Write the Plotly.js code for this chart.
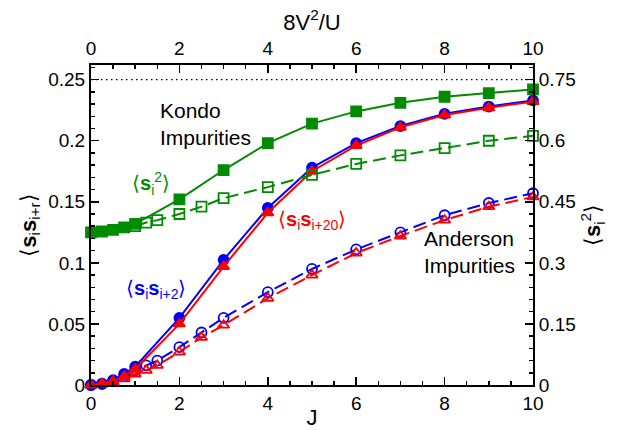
<!DOCTYPE html>
<html><head><meta charset="utf-8">
<script src="https://cdn.plot.ly/plotly-3.0.1.min.js"></script>
<style>html,body{margin:0;padding:0;background:#fff}#c{width:623px;height:430px}</style>
</head><body><div id="c"></div>
<script>
// Kondo impurities (filled symbols)
const J_kondo = [0,0.25,0.5,0.75,1,2,3,4,5,6,7,8,9,10];
const kondo_si2 = [0.375,0.377,0.381,0.387,0.396,0.456,0.528,0.594,0.642,0.672,0.693,0.708,0.717,0.726]; // right axis
const kondo_r2 = [0,0.001,0.004,0.009,0.015,0.055,0.1025,0.145,0.178,0.198,0.212,0.222,0.228,0.233];
const kondo_r20 = [0,0.001,0.003,0.007,0.013,0.050,0.097,0.141,0.175,0.196,0.211,0.221,0.227,0.232];
// Anderson impurities (open symbols)
const J_and_si2 = [1,1.25,1.5,2,2.5,3,4,5,6,7,8,9,10];
const and_si2 = [0.39,0.399,0.405,0.42,0.438,0.459,0.486,0.516,0.543,0.564,0.582,0.6,0.612]; // right axis
const J_and = [0,0.25,0.5,0.75,1,1.25,1.5,2,2.5,3,4,5,6,7,8,9,10];
const and_r2 = [0,0.001,0.003,0.007,0.012,0.016,0.020,0.031,0.043,0.055,0.076,0.095,0.111,0.125,0.139,0.149,0.157];
const and_r20 = [0,0.001,0.002,0.005,0.009,0.012,0.016,0.027,0.039,0.049,0.071,0.090,0.108,0.122,0.135,0.146,0.154];
const refLineX = [0,10];
const refLineY = [0.25,0.25];
const leftTicks = [0,0.05,0.1,0.15,0.2,0.25];
const rightTicks = [0,0.15,0.3,0.45,0.6,0.75];
const rightTickText = ['0','0.15','0.3','0.45','0.6','0.75'];
const xTicks = [0,2,4,6,8,10];

const G='#008b00', B='#0000ff', R='#ff0000';
const FONT='Liberation Sans, Arial, sans-serif';
const yTop=0.262;

function tr(x,y,color,sym,dash,yaxis){
  return {x:x,y:y,type:'scatter',mode:'lines+markers',cliponaxis:false,yaxis:yaxis||'y',
    line:{color:color,width:2,dash:dash},
    marker:{symbol:sym,size:10,color:color,line:{color:color,width:1.8}},showlegend:false};
}
const DASH='13px,6px';
const data=[
  {x:refLineX,y:refLineY,type:'scatter',mode:'lines',line:{color:'#000',width:1.3,dash:'1.5px,3.5px'},showlegend:false,hoverinfo:'skip'},
  tr(J_and_si2,and_si2,G,'square-open',DASH,'y2'),
  tr(J_and,and_r2,B,'circle-open',DASH),
  tr(J_and,and_r20,R,'triangle-up-open',DASH),
  tr(J_kondo,kondo_si2,G,'square','solid','y2'),
  tr(J_kondo,kondo_r2,B,'circle','solid'),
  tr(J_kondo,kondo_r20,R,'triangle-up','solid'),
  {x:[0],y:[0],xaxis:'x2',type:'scatter',mode:'markers',marker:{opacity:0},showlegend:false,hoverinfo:'skip'}
];
const axBase={showgrid:false,zeroline:false,showline:true,linecolor:'#000',linewidth:2,ticks:'inside',ticklen:8,tickwidth:1.5,tickcolor:'#000',
  tickfont:{family:FONT,size:19,color:'#000'}};
const layout={
  width:623,height:430,margin:{l:91,r:90,t:65,b:45},paper_bgcolor:'#fff',plot_bgcolor:'#fff',
  font:{family:FONT,color:'#000'},
  xaxis:Object.assign({},axBase,{range:[0,10],tickvals:xTicks,minor:{dtick:0.5,ticks:'inside',ticklen:4,tickcolor:'#000'},
    title:{text:'J',font:{family:FONT,size:22},standoff:2}}),
  xaxis2:Object.assign({},axBase,{range:[0,10],overlaying:'x',side:'top',tickvals:xTicks,minor:{dtick:0.5,ticks:'inside',ticklen:4,tickcolor:'#000'},
    title:{text:'8V<sup>2</sup>/U',font:{family:FONT,size:22},standoff:2}}),
  yaxis:Object.assign({},axBase,{range:[0,yTop],tickvals:leftTicks,minor:{dtick:0.01,ticks:'inside',ticklen:4,tickcolor:'#000'},
    title:{text:'⟨<b>s</b><sub>i</sub><b>s</b><sub>i+r</sub>⟩',font:{family:FONT,size:22},standoff:6}}),
  yaxis2:Object.assign({},axBase,{range:[0,yTop*3],overlaying:'y',side:'right',tickvals:rightTicks,ticktext:rightTickText,
    minor:{dtick:0.03,ticks:'inside',ticklen:4,tickcolor:'#000'},
    title:{text:'⟨<b>s</b><sub>i</sub><sup>2</sup>⟩',font:{family:FONT,size:22},standoff:10}}),
  annotations:[
    {x:2.6,y:0.2135,xref:'x',yref:'y',text:'Kondo<br>Impurities',showarrow:false,align:'left',font:{family:FONT,size:21,color:'#000'}},
    {x:8.57,y:0.109,xref:'x',yref:'y',text:'Anderson<br>Impurities',showarrow:false,align:'left',font:{family:FONT,size:21,color:'#000'}},
    {x:1.35,y:0.165,xref:'x',yref:'y',text:'⟨<b>s</b><sub>i</sub><sup>2</sup>⟩',showarrow:false,font:{family:FONT,size:20,color:G}},
    {x:1.48,y:0.0785,xref:'x',yref:'y',text:'⟨<b>s</b><sub>i</sub><b>s</b><sub>i+2</sub>⟩',showarrow:false,font:{family:FONT,size:20,color:B}},
    {x:5.0,y:0.135,xref:'x',yref:'y',text:'⟨<b>s</b><sub>i</sub><b>s</b><sub>i+20</sub>⟩',showarrow:false,font:{family:FONT,size:20,color:R}}
  ]
};
Plotly.newPlot('c',data,layout,{displayModeBar:false,staticPlot:true});
</script></body></html>
